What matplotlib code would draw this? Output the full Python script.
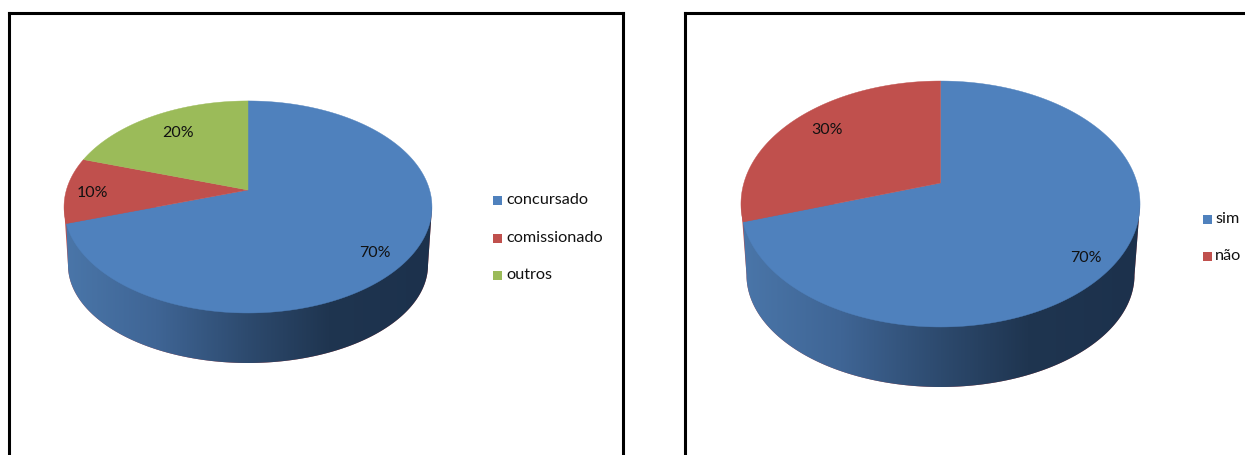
import numpy as np
import matplotlib
matplotlib.use("Agg")
import matplotlib.pyplot as plt
from matplotlib.colors import LinearSegmentedColormap
from matplotlib.patches import Polygon, Rectangle

# ---- data ----
left_categories = ["concursado", "comissionado", "outros"]
left_values = [70, 10, 20]
right_categories = ["sim", "não"]
right_values = [70, 30]
colors = ["#4F81BD", "#C0504D", "#9BBB59"]

plt.rcParams["font.family"] = ["Lato", "DejaVu Sans"]
W, H = 1245, 455
fig = plt.figure(figsize=(W / 100, H / 100), dpi=100)
ax = fig.add_axes([0, 0, 1, 1])
ax.set_xlim(0, W)
ax.set_ylim(H, 0)
ax.axis("off")

wall_cmap = LinearSegmentedColormap.from_list(
    "wall",
    [(0, "#4A76A9"), (0.25, "#3F6595"), (0.5, "#2D4A6E"), (0.72, "#1F3550"), (1, "#1C314C")],
)


def top_point(theta, g):
    """Perspective projection of a unit circle point; theta clockwise from top."""
    u, v = np.sin(theta), np.cos(theta)
    d = 1 + g["k"] * v
    return g["ax"] + g["a"] * u / d, g["ay"] - g["b"] * v / d


def draw_pie(values, g):
    fracs = np.asarray(values, float) / np.sum(values)
    edges = np.concatenate([[0], np.cumsum(fracs)]) * 2 * np.pi
    low = np.linspace(0, np.pi, 200)
    bottom_x = g["ax"] + g["brx"] * np.cos(low)
    bottom_y = g["bcy"] + g["bry"] * np.sin(low)

    right_x, left_x = g["ax"] + g["rx"], g["ax"] - g["rx"]
    sil = np.column_stack([
        np.r_[right_x, bottom_x, left_x],
        np.r_[g["tcy"], bottom_y, g["tcy"]],
    ])
    ax.add_patch(Polygon(sil, closed=True, fc=colors[1], ec="none", zorder=1))

    end = top_point(edges[1], g)
    mask = np.column_stack([
        np.r_[right_x, bottom_x, end[0]],
        np.r_[g["tcy"], bottom_y, end[1]],
    ])
    clip = Polygon(mask, closed=True, transform=ax.transData, fc="none", ec="none")
    ax.add_patch(clip)
    grad = np.linspace(0, 1, 256).reshape(1, -1)
    im = ax.imshow(
        grad, cmap=wall_cmap, aspect="auto", zorder=2,
        extent=(left_x, right_x, g["bcy"] + g["bry"], g["tcy"] - 5),
    )
    im.set_clip_path(clip)
    ax.set_xlim(0, W)
    ax.set_ylim(H, 0)

    for i, c in zip(range(len(fracs)), colors):
        t = np.linspace(edges[i], edges[i + 1], 200)
        x, y = top_point(t, g)
        ax.add_patch(Polygon(
            np.column_stack([np.r_[g["ax"], x], np.r_[g["ay"], y]]),
            closed=True, fc=c, ec=c, lw=0.3, zorder=3,
        ))


def frame(x0, x1):
    ax.plot([x0, x0], [H + 5, 13], color="black", lw=2.2, solid_joinstyle="miter", zorder=5)
    ax.plot([x0, x1], [13, 13], color="black", lw=2.2, solid_capstyle="projecting", zorder=5)
    if x1 < W:
        ax.plot([x1, x1], [13, H + 5], color="black", lw=2.2, zorder=5)


frame(9, 623)
frame(685, W + 5)

g_left = dict(ax=248, ay=190, a=181.6, b=103.3, k=0.160, rx=184, tcy=207,
              brx=180, bcy=265, bry=98)
g_right = dict(ax=940.5, ay=183, a=196.6, b=119.4, k=0.1707, rx=199.5, tcy=204,
               brx=194, bcy=275, bry=112)
draw_pie(left_values, g_left)
draw_pie(right_values, g_right)

txt = dict(ha="center", va="center", fontsize=11.5, color="#111111", zorder=6)
for v, (x, y) in zip(left_values, [(375, 253), (92, 193), (178, 133)]):
    ax.text(x, y, f"{v}%", **txt)
for v, (x, y) in zip(right_values, [(1086, 258), (827, 130)]):
    ax.text(x, y, f"{v}%", **txt)


def legend(cats, sq_x, text_x, ys):
    for c, col, y in zip(cats, colors, ys):
        ax.add_patch(Rectangle((sq_x, y - 4.5), 9, 9, fc=col, ec="none", zorder=6))
        ax.text(text_x, y, c, ha="left", va="center", fontsize=11.7,
                color="#111111", zorder=6)


legend(left_categories, 493, 506, [200, 238, 275])
legend(right_categories, 1203, 1215, [219, 256])

fig.savefig("out.png", dpi=100)
